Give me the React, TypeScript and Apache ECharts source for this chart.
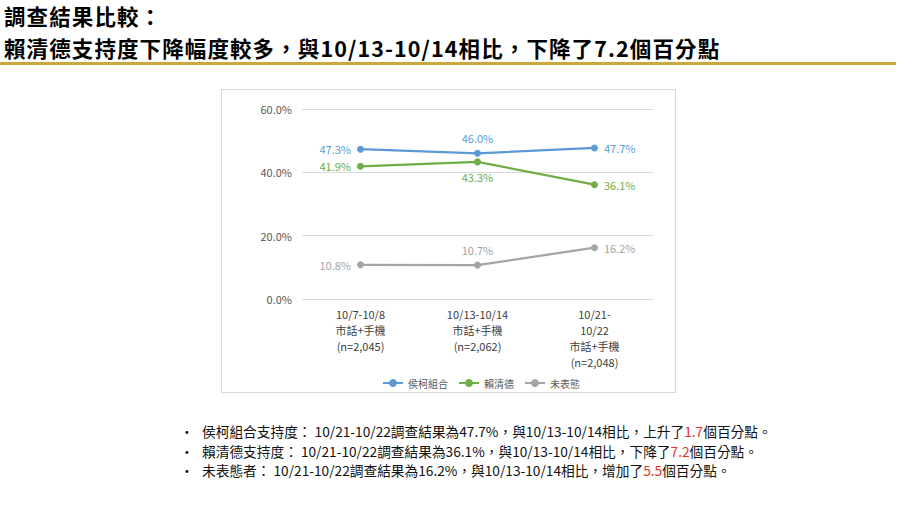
import { useEffect, useRef } from 'react';
import * as echarts from 'echarts';

const titleLines = ['調查結果比較：', '賴清德支持度下降幅度較多，與10/13-10/14相比，下降了7.2個百分點'];

const categories = [
    '10/7-10/8\n市話+手機\n(n=2,045)',
    '10/13-10/14\n市話+手機\n(n=2,062)',
    '10/21-\n10/22\n市話+手機\n(n=2,048)',
];

const seriesNames = ['侯柯組合', '賴清德', '未表態'];
const houKoValues = [47.3, 46.0, 47.7];
const laiValues = [41.9, 43.3, 36.1];
const undecidedValues = [10.8, 10.7, 16.2];

const yTicks = { min: 0, max: 60, interval: 20 };

const bullets = [
    { before: '侯柯組合支持度： 10/21-10/22調查結果為47.7%，與10/13-10/14相比，上升了', num: '1.7', after: '個百分點。' },
    { before: '賴清德支持度： 10/21-10/22調查結果為36.1%，與10/13-10/14相比，下降了', num: '7.2', after: '個百分點。' },
    { before: '未表態者： 10/21-10/22調查結果為16.2%，與10/13-10/14相比，增加了', num: '5.5', after: '個百分點。' },
];

const FONT = '"Noto Sans CJK TC", "Noto Sans", sans-serif';

export default function App() {
    const chartRef = useRef<HTMLDivElement>(null);

    useEffect(() => {
        if (!chartRef.current) return;
        const chart = echarts.init(chartRef.current, undefined, { renderer: 'svg' });

        const colors = ['#5B9BD5', '#70AD47', '#A5A5A5'];
        const allValues = [houKoValues, laiValues, undecidedValues];
        // label side for each point, per series
        const labelSides = [
            ['left', 'top', 'right'],
            ['left', 'bottom', 'right'],
            ['left', 'top', 'right'],
        ];

        chart.setOption({
            animation: false,
            textStyle: { fontFamily: FONT },
            color: colors,
            grid: { left: 81, right: 23, top: 20, bottom: 94 },
            legend: {
                data: seriesNames,
                left: 156,
                top: 284,
                itemWidth: 20,
                itemHeight: 10,
                itemGap: 10,
                textStyle: { fontSize: 10, color: '#595959', fontFamily: FONT },
            },
            xAxis: {
                type: 'category',
                data: categories,
                axisLine: { show: false },
                axisTick: { show: false },
                axisLabel: {
                    interval: 0,
                    fontSize: 11,
                    lineHeight: 16,
                    margin: 7,
                    color: '#404040',
                    verticalAlign: 'top',
                },
            },
            yAxis: {
                type: 'value',
                min: yTicks.min,
                max: yTicks.max,
                interval: yTicks.interval,
                axisLabel: {
                    fontSize: 11,
                    color: '#595959',
                    margin: 10,
                    formatter: (v: number) => v.toFixed(1) + '%',
                },
                splitLine: { lineStyle: { color: '#D9D9D9', width: 1 } },
            },
            series: seriesNames.map((name, i) => ({
                name,
                type: 'line',
                symbol: 'circle',
                symbolSize: 7,
                lineStyle: { width: 2.25, color: colors[i] },
                itemStyle: { color: colors[i] },
                data: allValues[i].map((v, j) => ({
                    value: v,
                    label: { position: labelSides[i][j] },
                })),
                label: {
                    show: true,
                    distance: 6,
                    fontSize: 11,
                    color: colors[i],
                    formatter: (p: any) => p.value.toFixed(1) + '%',
                },
            })),
        });

        return () => chart.dispose();
    }, []);

    return (
        <div style={{ position: 'absolute', left: 0, top: 0, width: 900, height: 506, background: '#fff', fontFamily: FONT, overflow: 'hidden' }}>
            {titleLines.map((t, i) => (
                <div key={i} style={{ position: 'absolute', left: 4, top: i * 31.5, lineHeight: '31.5px', fontSize: 21.5, letterSpacing: 1.1, fontWeight: 'bold', color: '#000', whiteSpace: 'nowrap' }}>
                    {t}
                </div>
            ))}
            <div style={{ position: 'absolute', left: 0, top: 62, width: 896, height: 3, background: '#C9A83C' }} />

            <div style={{ position: 'absolute', left: 221, top: 89, width: 455, height: 304, border: '1px solid #D9D9D9', boxSizing: 'border-box' }} />
            <div ref={chartRef} style={{ position: 'absolute', left: 221, top: 89, width: 455, height: 304 }} />

            <div style={{ position: 'absolute', left: 0, top: 422 }}>
                {bullets.map((b, i) => (
                    <div key={i} style={{ position: 'relative', height: 19.5, lineHeight: '19.5px', fontSize: 13.7, color: '#111', whiteSpace: 'nowrap' }}>
                        <span style={{ position: 'absolute', left: 180 }}>•</span>
                        <span style={{ position: 'absolute', left: 202 }}>
                            {b.before}
                            <span style={{ color: '#E0352B' }}>{b.num}</span>
                            {b.after}
                        </span>
                    </div>
                ))}
            </div>
        </div>
    );
}
